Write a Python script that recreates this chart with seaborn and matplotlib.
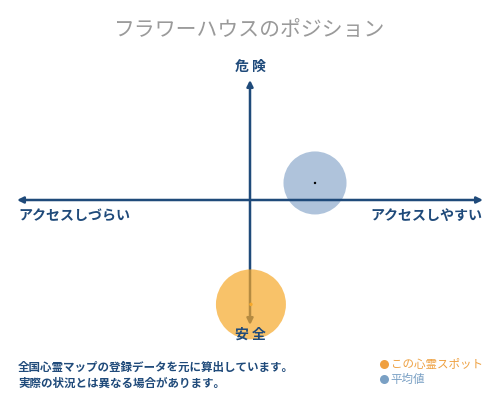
import matplotlib
matplotlib.use('Agg')
import matplotlib.pyplot as plt
import seaborn as sns
import pandas as pd
from matplotlib.lines import Line2D

# position data (x: access, y: danger), axis range -1..1
spots = ['この心霊スポット', '平均値']
access = [0.004, 0.279]
danger = [-0.87, 0.142]
sizes = [2540, 2060]

title = 'フラワーハウスのポジション'
top_label = '危 険'
bottom_label = '安 全'
left_label = 'アクセスしづらい'
right_label = 'アクセスしやすい'
notes = ['全国心霊マップの登録データを元に算出しています。',
         '実際の状況とは異なる場合があります。']

navy = '#1f4a7a'
orange = '#f6a82a'
blue = '#a6bdd8'

sns.set_theme(style='white')
plt.rcParams['font.family'] = ['Noto Sans CJK JP', 'DejaVu Sans']

df = pd.DataFrame({'spot': spots, 'access': access, 'danger': danger, 'size': sizes})

fig = plt.figure(figsize=(5, 4), dpi=100)
# axes box spans the arrow tips (pixels 17..483 wide, 80..325 tall)
ax = fig.add_axes([17/500, 1 - 325/400, 466/500, 245/400])
ax.set_xlim(-1, 1)
ax.set_ylim(-125/120, 1)
ax.axis('off')

# average circle sits under the axis lines
avg = df[df['spot'] == '平均値']
sns.scatterplot(data=avg, x='access', y='danger', s=avg['size'].iloc[0],
                color=blue, edgecolor='none', alpha=0.9, legend=False, ax=ax,
                zorder=1, clip_on=False)
sns.scatterplot(data=avg, x='access', y='danger', s=3, color='black',
                edgecolor='none', legend=False, ax=ax, zorder=4, clip_on=False)

# axis arrows
ax.annotate('', xy=(-1, 0), xytext=(1, 0), xycoords='data',
            arrowprops=dict(arrowstyle='<|-|>', color=navy, lw=1.8,
                            mutation_scale=9, shrinkA=0, shrinkB=0),
            annotation_clip=False, zorder=2)
ax.annotate('', xy=(0, 1), xytext=(0, -125/120), xycoords='data',
            arrowprops=dict(arrowstyle='<|-|>', color=navy, lw=1.8,
                            mutation_scale=9, shrinkA=0, shrinkB=0),
            annotation_clip=False, zorder=2)

# this spot circle drawn on top, translucent
spot = df[df['spot'] == 'この心霊スポット']
sns.scatterplot(data=spot, x='access', y='danger', s=spot['size'].iloc[0],
                color=orange, edgecolor='none', alpha=0.7, legend=False, ax=ax,
                zorder=3, clip_on=False)
sns.scatterplot(data=spot, x='access', y='danger', s=6, color=orange,
                edgecolor='none', legend=False, ax=ax, zorder=4, clip_on=False)

# texts
fig.text(0.5, 1 - 30/400, title, ha='center', va='center',
         fontsize=15, color='#9a9a9a')
fig.text(0.5, 1 - 67/400, top_label, ha='center', va='center',
         fontsize=10, color=navy, fontweight='bold')
fig.text(0.5, 1 - 335/400, bottom_label, ha='center', va='center',
         fontsize=10, color=navy, fontweight='bold')
fig.text(18/500, 1 - 216/400, left_label, ha='left', va='center',
         fontsize=10.1, color=navy, fontweight='bold')
fig.text(482/500, 1 - 216/400, right_label, ha='right', va='center',
         fontsize=10.1, color=navy, fontweight='bold')
fig.text(18/500, 1 - 367/400, notes[0], ha='left', va='center',
         fontsize=8.3, color=navy, fontweight='bold')
fig.text(18/500, 1 - 383/400, notes[1], ha='left', va='center',
         fontsize=8.3, color=navy, fontweight='bold')

# legend
handles = [Line2D([], [], marker='o', linestyle='none', markersize=6.5,
                  markerfacecolor='#f0a040', markeredgecolor='none'),
           Line2D([], [], marker='o', linestyle='none', markersize=6.5,
                  markerfacecolor='#7aa0c4', markeredgecolor='none')]
leg = fig.legend(handles, spots, loc='upper left',
                 bbox_to_anchor=(379/500, 1 - 358/400), frameon=False,
                 handlelength=0.8, handletextpad=0.2, labelspacing=0.2,
                 borderpad=0, borderaxespad=0, fontsize=8.3)
leg.get_texts()[0].set_color('#eea040')
leg.get_texts()[1].set_color('#7aa0c4')

fig.savefig('out.png', dpi=100, facecolor='white')
